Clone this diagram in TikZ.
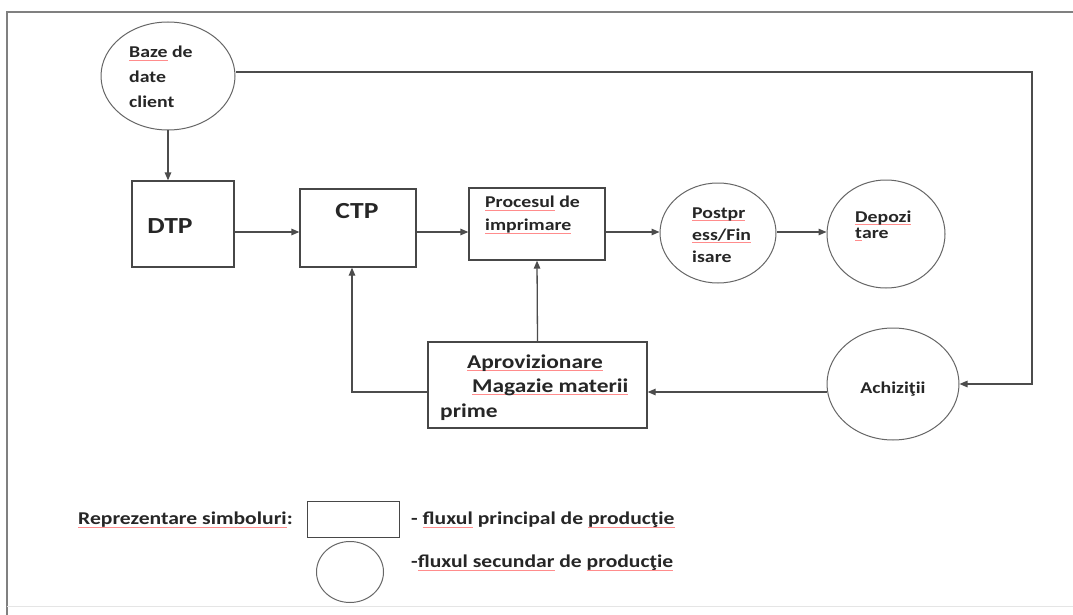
\documentclass[tikz,border=0pt]{standalone}
\usepackage{fontspec}
\setmainfont{Carlito}[FakeStretch=1.2]
\usetikzlibrary{arrows.meta,shapes.geometric}
\newsavebox\spubox
\newcommand\spu[1]{\sbox\spubox{#1}\rlap{\textcolor{red!45}{\rule[-2.6pt]{\wd\spubox}{0.7pt}}}\usebox\spubox}
\tikzset{
  box/.style={draw=black!72, line width=1.3pt, fill=white, inner sep=0},
  ell/.style={draw=black!60, line width=1pt, ellipse, inner sep=0},
  lbl/.style={font=\bfseries\fontsize{16.5}{23}\selectfont, align=left, inner sep=0, text=black!85},
  lblA/.style={lbl, font=\bfseries\fontsize{19.5}{24}\selectfont},
  lblL/.style={lbl, font=\bfseries\fontsize{18}{22}\selectfont},
  big/.style={font=\bfseries\fontsize{23}{28}\selectfont, inner sep=0, text=black!85},
  arr/.style={draw=black!70, line width=1.3pt, -{Triangle[length=8pt,width=6.5pt]}},
  frame/.style={draw=black!50, line width=1.2pt},
}
\begin{document}
\begin{tikzpicture}[x=1pt,y=-1pt]
\useasboundingbox[fill=white] (0,0) rectangle (1073,615);
% frame
\draw[frame] (1073,12) -- (7,12) -- (7,615);
\draw[draw=black!10, line width=1pt] (7,606) -- (1073,606);

% nodes
\node[ell, minimum width=134pt, minimum height=108pt] (baze) at (168,76) {};
\node[lbl, anchor=west, font=\bfseries\fontsize{16.5}{25}\selectfont] (bazeT) at (129,77) {\spu{Baze} de\\date\\client};

\node[box, minimum width=102pt, minimum height=86pt] (dtp) at (183,224) {};
\node[big] (dtpT) at (170,226) {DTP};

\node[box, minimum width=116pt, minimum height=78pt] (ctp) at (358,228) {};
\node[big] (ctpT) at (357,211) {CTP};

\node[box, minimum width=136pt, minimum height=72pt] (proc) at (537,224) {};
\node[lbl, anchor=west] (procT) at (485,215) {\spu{Procesul} de\\\spu{imprimare}};

\node[ell, minimum width=116pt, minimum height=100pt] (post) at (718,233) {};
\node[lbl, anchor=west, font=\bfseries\fontsize{16.5}{22}\selectfont] (postT) at (692,235) {\spu{Postpr}\\\spu{ess/Fin}\\isare};

\node[ell, minimum width=118pt, minimum height=108pt] (depo) at (886,234) {};
\node[lbl, anchor=west, font=\bfseries\fontsize{16.5}{16}\selectfont] (depoT) at (855,226) {\spu{Depozi}\\\spu{t}are};

\node[ell, minimum width=132pt, minimum height=112pt] (achiz) at (893,384) {};
\node[lbl] (achizT) at (893,389) {Achiziţii};

\node[box, minimum width=219pt, minimum height=86pt] (aprov) at (537.5,385) {};
\node[lblA, anchor=west] (a1) at (467,363) {\spu{Aprovizionare}};
\node[lblA, anchor=west] (a2) at (472,387) {\spu{Magazie materii}};
\node[lblA, anchor=west] (a3) at (440,412) {prime};

% legend
\node[lblL, anchor=west] (leg) at (78,520) {\spu{Reprezentare simboluri}:};
\node[box, line width=1pt, minimum width=92pt, minimum height=36pt] (legR) at (353,519) {};
\node[lblL, anchor=west] (legT1) at (411,520) {- \spu{fluxul} principal de \spu{producţie}};
\node[ell, minimum width=67pt, minimum height=61pt] (legC) at (350,572) {};
\node[lblL, anchor=west] (legT2) at (411,563) {-\spu{fluxul secundar} de \spu{producţie}};

% connectors
\coordinate (fy) at (0,232);
\coordinate (ty) at (0,72);
\coordinate (rx) at (1032,0);
\coordinate (by) at (0,392);
\coordinate (cx) at (352,0);
\draw[arr] (baze.south) -- (baze.south |- dtp.north);
\draw[arr] (dtp.east |- fy) -- (ctp.west |- fy);
\draw[arr] (ctp.east |- fy) -- (proc.west |- fy);
\draw[arr] (proc.east |- fy) -- (post.west |- fy);
\draw[arr] (post.east |- fy) -- (depo.west |- fy);
\draw[arr] (baze.east |- ty) -- (rx |- ty) |- (achiz.east);
\draw[arr] (achiz.west |- by) -- (aprov.east |- by);
\draw[arr] (aprov.west |- by) -| (cx |- ctp.south);
\draw[arr] (aprov.north) -- (proc.south);
\end{tikzpicture}
\end{document}
